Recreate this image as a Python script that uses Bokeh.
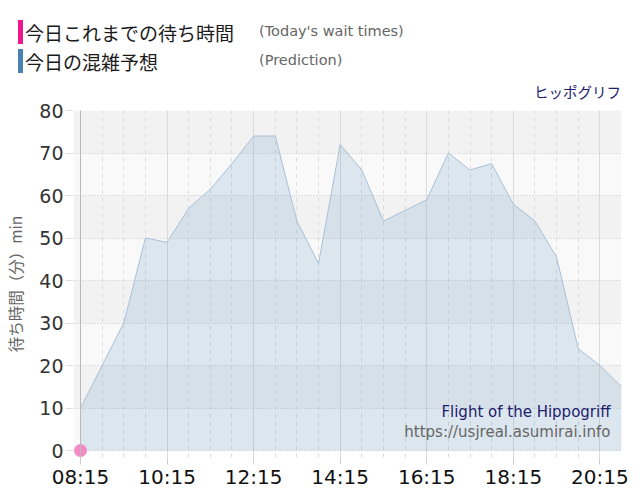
from bokeh.plotting import figure
from bokeh.layouts import column
from bokeh.models import Range1d, FixedTicker, Label, Span, Grid, Div
from bokeh.embed import file_html
from bokeh.resources import INLINE

# ---- data ----
times = ["08:15", "08:45", "09:15", "09:45", "10:15", "10:45", "11:15", "11:45",
         "12:15", "12:45", "13:15", "13:45", "14:15", "14:45", "15:15", "15:45",
         "16:15", "16:45", "17:15", "17:45", "18:15", "18:45", "19:15", "19:45",
         "20:15", "20:45"]
wait_pred = [10, 20, 30, 50, 49, 57, 61.5, 67.5,
             74, 74, 54, 44, 72, 66, 54, 56.5,
             59, 70, 66, 67.5, 58, 54, 45.5, 24,
             20, 15]
actual_times = ["08:15"]
actual_wait = [0]
x_tick_labels = ["08:15", "10:15", "12:15", "14:15", "16:15", "18:15", "20:15"]
y_ticks = [0, 10, 20, 30, 40, 50, 60, 70, 80]

legend_jp = ["今日これまでの待ち時間", "今日の混雑予想"]
legend_en = ["(Today's wait times)", "(Prediction)"]
legend_colors = ["#f0188c", "#4a82b4"]
ride_jp = "ヒッポグリフ"
ride_en = "Flight of the Hippogriff"
site = "https://usjreal.asumirai.info"
y_label = "待ち時間（分）min"


def to_min(s):
    h, m = s.split(":")
    return int(h) * 60 + int(m)


x_pred = [to_min(t) for t in times]
x_act = [to_min(t) for t in actual_times]
major = [to_min(t) for t in x_tick_labels]
minor = list(range(x_pred[0], x_pred[-1] + 1, 30))

FW = 632
HH = 100                      # header height
FH = 392                      # main figure height
BL, BR, BT, BB = 73, 11, 10, 35
frame_w = FW - BL - BR
frame_h = FH - BT - BB
PAD = 7
px_per_min = (frame_w - PAD) / (x_pred[-1] - x_pred[0])
px_per_unit = (frame_h - PAD) / y_ticks[-1]

# ---------------- header (legend) ----------------
rows_y = [32, 61]
parts = []
for i in range(2):
    parts.append(
        f'<div style="position:absolute;left:18px;top:{rows_y[i] - 12}px;width:5px;'
        f'height:24px;background:{legend_colors[i]};"></div>')
    parts.append(
        f'<div style="position:absolute;left:25px;top:{rows_y[i]}px;transform:translateY(-50%);'
        f'font-family:\'Noto Sans CJK JP\';font-size:19px;line-height:1;color:#1a1a1a;'
        f'white-space:nowrap;">{legend_jp[i]}</div>')
    parts.append(
        f'<div style="position:absolute;left:259px;top:{rows_y[i] - 1}px;transform:translateY(-50%);'
        f'font-family:\'DejaVu Sans\';font-size:14.5px;line-height:1;color:#666666;'
        f'white-space:nowrap;">{legend_en[i]}</div>')
parts.append(
    f'<div style="position:absolute;right:{FW - 621}px;top:92px;transform:translateY(-50%);'
    f'font-family:\'Noto Sans CJK JP\';font-size:14.5px;line-height:1;color:#20206e;'
    f'white-space:nowrap;">{ride_jp}</div>')
header_html = (f'<div style="position:relative;width:{FW}px;height:{HH}px;margin:0;padding:0;">'
               + "".join(parts) + '</div>')
header = Div(text=header_html, width=FW, height=HH, margin=(0, 0, 0, 0))

# ---------------- main chart ----------------
p = figure(width=FW, height=FH, output_backend="svg", toolbar_location=None,
           x_range=Range1d(x_pred[0] - PAD / px_per_min, x_pred[-1]),
           y_range=Range1d(-PAD / px_per_unit, y_ticks[-1]),
           min_border_left=BL, min_border_right=BR,
           min_border_top=BT, min_border_bottom=BB)
p.outline_line_color = None
p.background_fill_color = "white"
p.border_fill_color = "white"

xt = FixedTicker(ticks=major, minor_ticks=minor)
p.xaxis.ticker = xt
p.xgrid.ticker = xt
p.xgrid.grid_line_color = "#dcdcdc"
p.xgrid.minor_grid_line_color = "#dcdcdc"
p.xgrid.minor_grid_line_dash = "4 4"

yt = FixedTicker(ticks=y_ticks)
p.yaxis.ticker = yt
p.ygrid.ticker = yt
p.ygrid.grid_line_color = "#c4c4c4"
p.ygrid.grid_line_dash = "1 2"

band_light = Grid(dimension=1, ticker=FixedTicker(ticks=y_ticks), grid_line_color=None,
                  band_fill_color="#f9f9f9", band_fill_alpha=1.0)
band_dark = Grid(dimension=1, ticker=FixedTicker(ticks=y_ticks[1:]), grid_line_color=None,
                 band_fill_color="#f2f2f2", band_fill_alpha=1.0)
p.center = [band_light, band_dark] + list(p.center)

p.xaxis.major_label_overrides = {m: lab for m, lab in zip(major, x_tick_labels)}
p.xaxis.axis_line_color = None
p.xaxis.minor_tick_line_color = None
p.xaxis.major_tick_in = 0
p.xaxis.major_tick_out = 7
p.xaxis.major_tick_line_color = "#cccccc"
p.xaxis.major_label_standoff = 0
p.xaxis.major_label_text_font = "DejaVu Sans"
p.xaxis.major_label_text_font_size = "20px"
p.xaxis.major_label_text_color = "#111111"

p.yaxis.axis_line_color = None
p.yaxis.minor_tick_line_color = None
p.yaxis.major_tick_in = 0
p.yaxis.major_tick_out = 8
p.yaxis.major_tick_line_color = "#e0e0e0"
p.yaxis.major_label_standoff = 2
p.yaxis.major_label_text_font = "DejaVu Sans"
p.yaxis.major_label_text_font_size = "19px"
p.yaxis.major_label_text_color = "#333333"
p.yaxis.axis_label = y_label
p.yaxis.axis_label_text_font = "Noto Sans CJK JP"
p.yaxis.axis_label_text_font_style = "normal"
p.yaxis.axis_label_text_font_size = "15.5px"
p.yaxis.axis_label_text_color = "#666666"
p.yaxis.axis_label_standoff = 10

p.add_layout(Span(location=x_pred[0], dimension="height",
                  line_color="#b8b8b8", line_width=1))

p.varea(x=x_pred, y1=[0] * len(x_pred), y2=wait_pred,
        fill_color="#4682b4", fill_alpha=0.16)
p.line(x_pred, wait_pred, line_color="#a9c0d7", line_width=1)

p.scatter(x=x_act, y=actual_wait, size=13, fill_color="#f48ac4", line_color=None)

# bottom-right credits (screen units relative to the frame: y up from frame bottom)
frame_bottom_page = HH + BT + frame_h
p.add_layout(Label(x=610 - BL, y=frame_bottom_page - 411, x_units="screen", y_units="screen",
                   text=ride_en, text_font="DejaVu Sans", text_font_size="15px",
                   text_color="#20206e", text_baseline="middle", text_align="right"))
p.add_layout(Label(x=610 - BL, y=frame_bottom_page - 431, x_units="screen", y_units="screen",
                   text=site, text_font="DejaVu Sans", text_font_size="15px",
                   text_color="#666666", text_baseline="middle", text_align="right"))

layout = column(header, p, spacing=0)
open("out.html", "w").write(file_html(layout, INLINE))
